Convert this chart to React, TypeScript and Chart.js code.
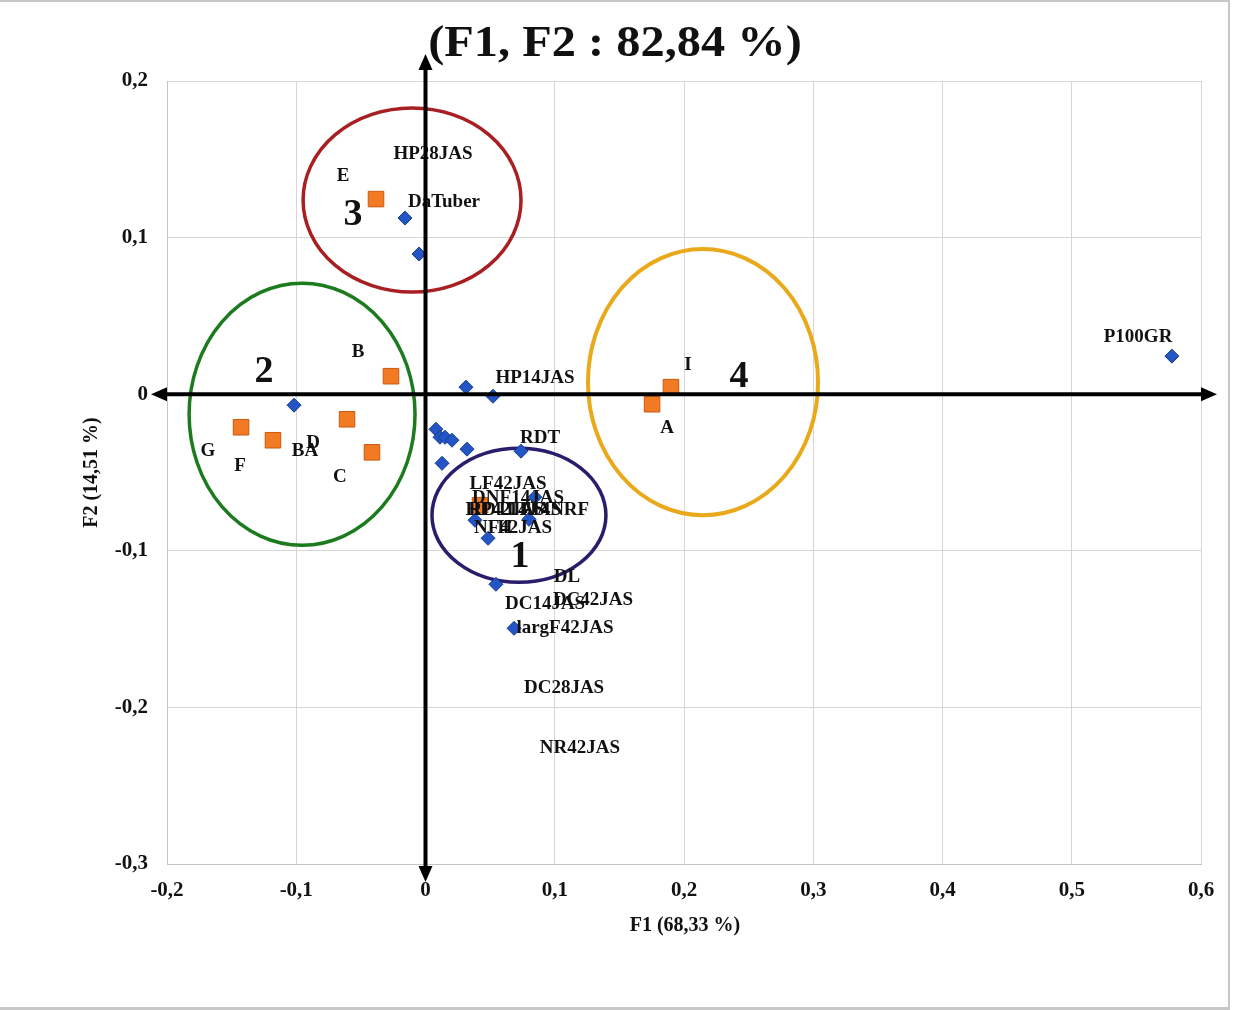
import React, { useEffect, useRef } from "react";
import { Chart, registerables } from "chart.js";

Chart.register(...registerables);

// ---- Data ----
const titleText = "(F1, F2 : 82,84 %)";
const xAxisTitle = "F1 (68,33 %)";
const yAxisTitle = "F2 (14,51 %)";

const xMin = -0.2;
const xMax = 0.6;
const yMin = -0.3;
const yMax = 0.2;
const tickStep = 0.1;

// Variables (blue diamonds)
const varX = [-0.0159, -0.005, -0.1017, 0.0313, 0.0522, 0.0081, 0.0112, 0.0151, 0.0205, 0.0128, 0.0321, 0.0739, 0.0383, 0.0484, 0.0801, 0.0847, 0.0545, 0.0685, 0.5775];
const varY = [0.1125, 0.0895, -0.007, 0.0045, -0.0013, -0.0224, -0.0275, -0.0275, -0.0294, -0.0441, -0.0351, -0.0364, -0.0805, -0.092, -0.0799, -0.0658, -0.1214, -0.1495, 0.0243];

// Observations (orange squares)
const obsNames = ["E", "B", "G", "F", "D", "C", "I", "A", "H"];
const obsX = [-0.0383, -0.0267, -0.1427, -0.118, -0.0607, -0.0414, 0.1899, 0.1753, 0.0422];
const obsY = [0.1246, 0.0115, -0.0211, -0.0294, -0.016, -0.0371, 0.0045, -0.0064, -0.0709];

// Text labels (as placed on the chart, in data units)
const labelText = ["HP28JAS", "DaTuber", "E", "B", "G", "F", "D", "BA", "C", "I", "A", "HP14JAS", "RDT", "LF42JAS", "DNF14JAS", "HP42JAS", "RDT14JAS", "LF14NRF", "NF42JAS", "H", "DL", "DC14JAS", "DC42JAS", "largF42JAS", "DC28JAS", "NR42JAS", "P100GR"];
const labelX = [0.0058, 0.0143, -0.0638, -0.0522, -0.1683, -0.1435, -0.087, -0.0932, -0.0662, 0.2031, 0.1869, 0.0847, 0.0886, 0.0638, 0.0716, 0.0615, 0.0692, 0.0948, 0.0677, 0.0615, 0.1095, 0.0925, 0.1296, 0.1079, 0.1072, 0.1195, 0.5513];
const labelY = [0.1534, 0.1227, 0.1393, 0.0268, -0.0364, -0.046, -0.0313, -0.0364, -0.053, 0.0185, -0.0217, 0.0102, -0.0281, -0.0575, -0.0665, -0.0741, -0.0741, -0.0741, -0.0856, -0.0856, -0.1169, -0.1342, -0.1316, -0.1495, -0.1879, -0.2262, 0.0364];

// Groups (ellipses)
const groupNames = ["1", "2", "3", "4"];
const groupCx = [0.0723, -0.0955, -0.0104, 0.2147];
const groupCy = [-0.0773, -0.0128, 0.124, 0.0077];
const groupRx = [0.0673, 0.0874, 0.0843, 0.089];
const groupRy = [0.0428, 0.0837, 0.0588, 0.085];
const groupColors = ["#2c1d6c", "#1c7a1f", "#a81f22", "#eaa91a"];
const groupLabelX = [0.0731, -0.125, -0.0561, 0.2426];
const groupLabelY = [-0.1042, 0.0141, 0.1144, 0.0109];

const FONT = '"Liberation Serif", "Times New Roman", serif';

const fmt = (v: number) => {
  const r = Math.round(v * 10) / 10;
  if (Math.abs(r) < 1e-9) return "0";
  return r.toFixed(1).replace(".", ",");
};

const overlayPlugin = {
  id: "overlay",
  beforeDatasetsDraw(chart: any) {
    const { ctx, scales } = chart;
    const xs = scales.x;
    const ys = scales.y;
    ctx.save();
    for (let i = 0; i < groupNames.length; i++) {
      const cx = xs.getPixelForValue(groupCx[i]);
      const cy = ys.getPixelForValue(groupCy[i]);
      const rx = Math.abs(xs.getPixelForValue(groupCx[i] + groupRx[i]) - cx);
      const ry = Math.abs(ys.getPixelForValue(groupCy[i] + groupRy[i]) - cy);
      ctx.beginPath();
      ctx.ellipse(cx, cy, rx, ry, 0, 0, Math.PI * 2);
      ctx.strokeStyle = groupColors[i];
      ctx.lineWidth = i === 3 ? 4 : 3.5;
      ctx.stroke();
    }
    ctx.restore();
  },
  afterDraw(chart: any) {
    const { ctx, scales, chartArea } = chart;
    const xs = scales.x;
    const ys = scales.y;
    ctx.save();

    // point labels
    ctx.fillStyle = "#111";
    ctx.textAlign = "center";
    ctx.textBaseline = "middle";
    ctx.font = `bold 19px ${FONT}`;
    for (let i = 0; i < labelText.length; i++) {
      ctx.fillText(labelText[i], xs.getPixelForValue(labelX[i]), ys.getPixelForValue(labelY[i]));
    }

    // group numbers
    ctx.font = `bold 38px ${FONT}`;
    for (let i = 0; i < groupNames.length; i++) {
      ctx.fillText(groupNames[i], xs.getPixelForValue(groupLabelX[i]), ys.getPixelForValue(groupLabelY[i]));
    }

    // thick axes with arrows
    const x0 = xs.getPixelForValue(0);
    const y0 = ys.getPixelForValue(0);
    const hl = chartArea.left - 16;
    const hr = chartArea.right + 16;
    const vt = chartArea.top - 27;
    const vb = chartArea.bottom + 18;
    ctx.strokeStyle = "#000";
    ctx.fillStyle = "#000";
    ctx.lineWidth = 4;
    ctx.beginPath();
    ctx.moveTo(hl + 12, y0);
    ctx.lineTo(hr - 12, y0);
    ctx.moveTo(x0, vt + 12);
    ctx.lineTo(x0, vb - 12);
    ctx.stroke();
    const arrow = (tx: number, ty: number, dx: number, dy: number) => {
      const L = 16, W = 7;
      const bx = tx - dx * L, by = ty - dy * L;
      ctx.beginPath();
      ctx.moveTo(tx, ty);
      ctx.lineTo(bx - dy * W, by + dx * W);
      ctx.lineTo(bx + dy * W, by - dx * W);
      ctx.closePath();
      ctx.fill();
    };
    arrow(hr, y0, 1, 0);
    arrow(hl, y0, -1, 0);
    arrow(x0, vt, 0, -1);
    arrow(x0, vb, 0, 1);

    // tick labels
    ctx.fillStyle = "#111";
    ctx.font = `bold 21px ${FONT}`;
    ctx.textAlign = "center";
    ctx.textBaseline = "middle";
    xs.ticks.forEach((t: any) => {
      ctx.fillText(fmt(t.value), xs.getPixelForValue(t.value), chartArea.bottom + 27);
    });
    ctx.textAlign = "right";
    ys.ticks.forEach((t: any) => {
      ctx.fillText(fmt(t.value), chartArea.left - 19, ys.getPixelForValue(t.value));
    });

    // axis titles
    ctx.font = `bold 20px ${FONT}`;
    ctx.textAlign = "center";
    ctx.fillText(xAxisTitle, (chartArea.left + chartArea.right) / 2 + 1, chartArea.bottom + 62);
    ctx.save();
    ctx.translate(chartArea.left - 75, (chartArea.top + chartArea.bottom) / 2 - 0);
    ctx.rotate(-Math.PI / 2);
    ctx.fillText(yAxisTitle, 0, 0);
    ctx.restore();

    // title
    ctx.save();
    ctx.font = `bold 44px ${FONT}`;
    ctx.translate(615, 45);
    ctx.scale(1.1, 1);
    ctx.fillText(titleText, 0, 0);
    ctx.restore();

    ctx.restore();
  },
};

export default function App() {
  const canvasRef = useRef<HTMLCanvasElement | null>(null);

  useEffect(() => {
    if (!canvasRef.current) return;
    const chart = new Chart(canvasRef.current, {
      type: "scatter",
      data: {
        datasets: [
          {
            label: "Variables",
            data: varX.map((x, i) => ({ x, y: varY[i] })),
            pointStyle: "rectRot",
            pointRadius: 7,
            backgroundColor: "#2356c4",
            borderColor: "#163c8e",
            borderWidth: 1,
          },
          {
            label: "Observations",
            data: obsX.map((x, i) => ({ x, y: obsY[i] })),
            pointStyle: "rect",
            pointRadius: 11,
            backgroundColor: "#f27a22",
            borderColor: "#c85a12",
            borderWidth: 1,
          },
        ],
      },
      options: {
        responsive: false,
        maintainAspectRatio: false,
        animation: false,
        events: [],
        layout: { padding: { left: 167, right: 33, top: 81, bottom: 146 } },
        plugins: {
          legend: { display: false },
          tooltip: { enabled: false },
          title: { display: false },
        },
        scales: {
          x: {
            type: "linear",
            min: xMin,
            max: xMax,
            ticks: { stepSize: tickStep, display: false },
            grid: { color: "#d6d6d6", lineWidth: 1, drawTicks: false },
            border: { display: true, color: "#c4c4c4" },
            afterFit: (s: any) => {
              s.height = 0;
            },
          },
          y: {
            type: "linear",
            min: yMin,
            max: yMax,
            ticks: { stepSize: tickStep, display: false },
            grid: { color: "#d6d6d6", lineWidth: 1, drawTicks: false },
            border: { display: true, color: "#c4c4c4" },
            afterFit: (s: any) => {
              s.width = 0;
            },
          },
        },
      },
      plugins: [overlayPlugin],
    } as any);
    return () => chart.destroy();
  }, []);

  return (
    <div style={{ position: "fixed", left: 0, top: 0, width: 1234, height: 1010, background: "#fff" }}>
      <canvas ref={canvasRef} width={1234} height={1010} style={{ display: "block" }} />
      <div
        style={{
          position: "absolute",
          left: -4,
          top: 0,
          width: 1232,
          height: 1005,
          borderTop: "2px solid #c8c8c8",
          borderRight: "2px solid #c8c8c8",
          borderBottom: "3px solid #c8c8c8",
          pointerEvents: "none",
        }}
      />
    </div>
  );
}
